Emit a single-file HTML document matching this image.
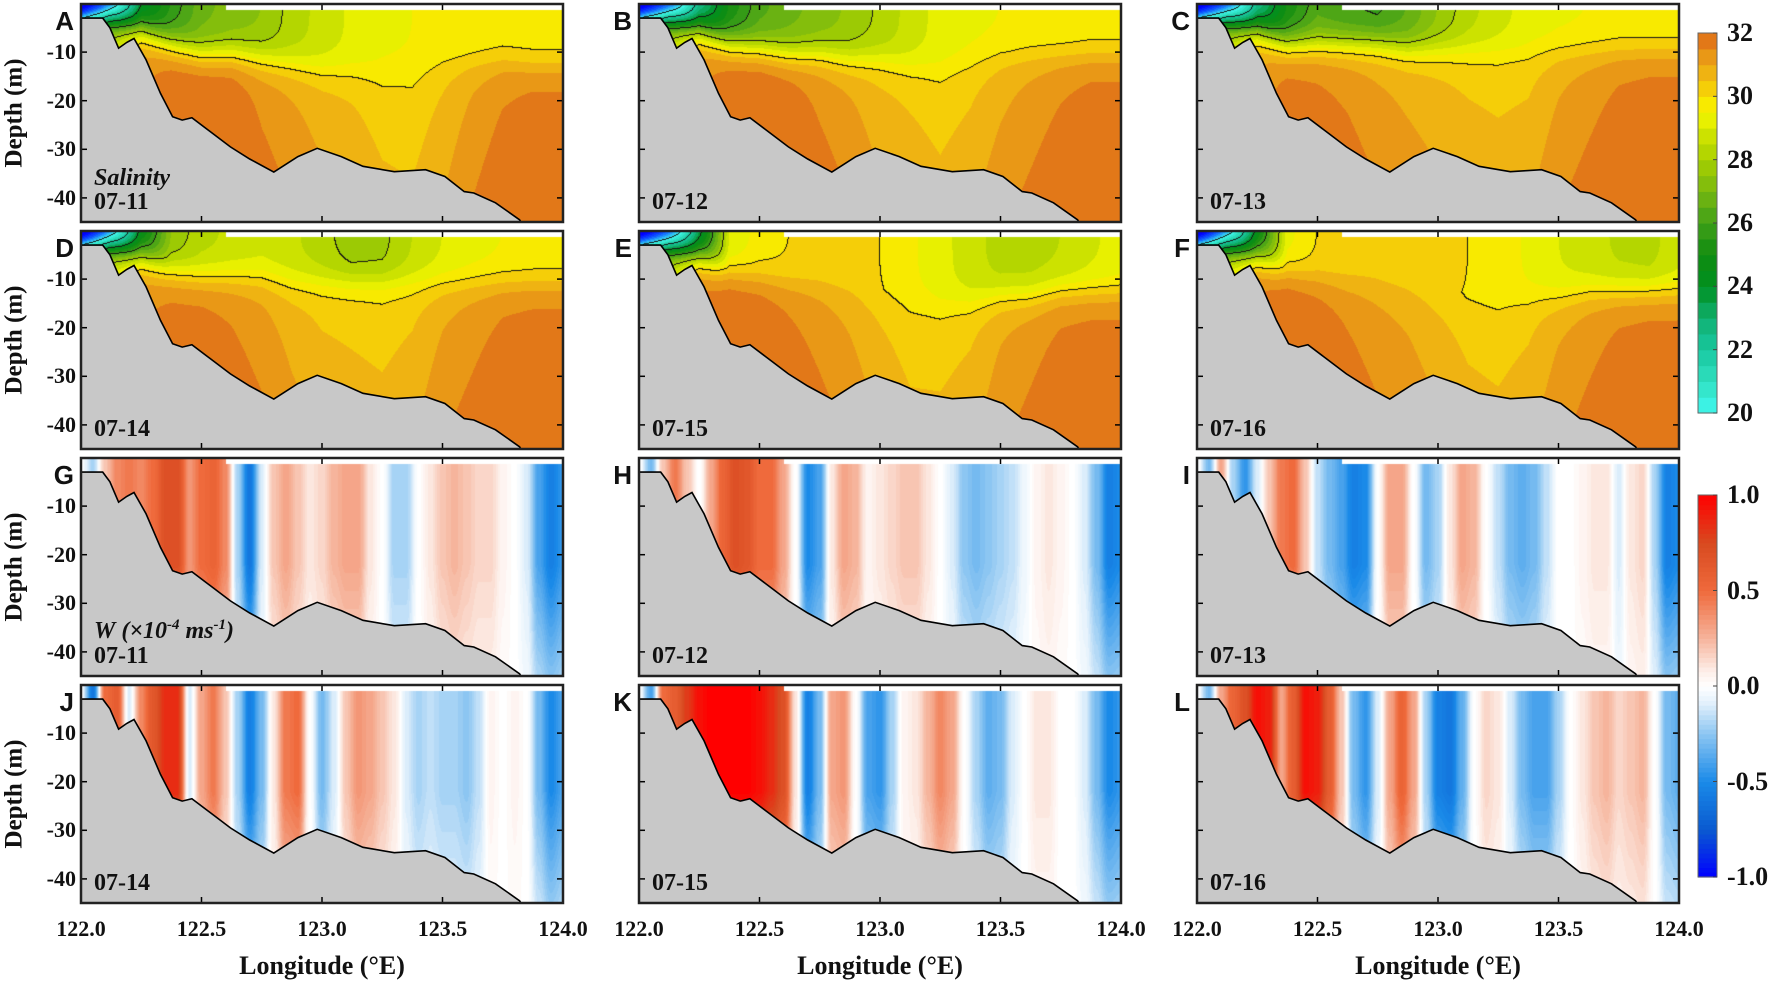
<!DOCTYPE html>
<html><head><meta charset="utf-8">
<style>
body{margin:0;background:#fff;}
#root{position:relative;width:1772px;height:984px;overflow:hidden;background:#fff;font-family:"Liberation Serif",serif;font-weight:bold;color:#111;}
.t{position:absolute;white-space:nowrap;line-height:1;}
canvas,svg{position:absolute;}
</style></head>
<body>
<div id="root"></div>
<script>
// ---------- DATA ----------
const bathyLon   = [122.00,122.09,122.12,122.156,122.19,122.22,122.27,122.33,122.38,122.42,122.46,122.54,122.62,122.70,122.80,122.90,122.98,123.08,123.17,123.30,123.43,123.51,123.59,123.63,123.72,123.82,123.85];
const bathyDepth = [3,3,5,9.2,8,7.2,11.6,18.5,23.3,24,23.5,26.5,29.5,32,34.7,31.5,29.8,31.5,33.5,34.6,34.2,35.6,38.7,39,41,44.5,47];

const salLon = [122,122.125,122.25,122.375,122.5,122.625,122.75,122.875,123,123.125,123.25,123.375,123.5,123.625,123.75,123.875,124];
const salSurfA = [12,17,23.5,25.5,26.8,27.2,27.5,28.2,28.7,29.1,29.4,29.5,29.6,29.6,29.7,29.7,29.7];
const salDeepA = [28,29,31.3,31.8,31.9,31.8,31.3,31.0,30.7,30.5,30.2,30.1,30.5,31.0,31.4,31.6,31.6];
const salHA    = [3,3,5,8,10,10,11,12,13,13,13,12,11,11,11,12,12];
const salSurfB = [12,16,22,25,26.3,26.8,27.2,27.6,28.1,28.7,29.2,29.4,29.5,29.6,29.6,29.7,29.7];
const salDeepB = [28,29,31.3,31.8,31.9,31.7,31.3,31.0,30.6,30.4,30.2,30.4,30.8,31.1,31.4,31.6,31.6];
const salHB    = [3,3,5,8,9,10,10,11,11,12,12,11,10,10,10,10,10];
const salSurfC = [12,16,22,25,26.3,26.0,25.8,26.5,27.5,28.3,28.8,29.2,29.4,29.5,29.6,29.6,29.6];
const salDeepC = [28,29,31.1,31.6,31.5,31.3,31.0,30.8,30.6,30.4,30.3,30.4,30.9,31.2,31.5,31.6,31.6];
const salHC    = [3,3,5,8,8,8,8,9,9,9,9,9,9,9,9,9,9];
const salSurfD = [12,17,24,27.5,28.3,28.6,28.8,28.6,28.2,27.7,27.8,28.5,29.0,29.3,29.5,29.6,29.6];
const salDeepD = [28,29.5,31.3,31.6,31.6,31.4,31.1,30.7,30.4,30.3,30.2,30.4,30.9,31.2,31.5,31.6,31.6];
const salHD    = [3,3,5,8,9,9,9,10,10,10,10,10,10,10,10,10,10];
const salSurfE = [12,16,23,29,29.7,30.0,30.1,30.2,30.0,29.6,29.2,28.7,28.3,28.3,28.5,28.9,29.2];
const salDeepE = [28,29,31.6,31.9,31.8,31.5,31.2,30.9,30.5,30.2,30.2,30.4,30.9,31.2,31.5,31.6,31.6];
const salHE    = [3,3,5,8,9,10,10,11,12,13,14,14,13,13,12,12,12];
const salSurfF = [12,17,24,29.3,30.0,30.2,30.3,30.3,30.2,30.0,29.8,29.4,29.0,28.7,28.4,28.3,28.8];
const salDeepF = [28,29.5,31.6,31.9,31.7,31.4,31.1,30.9,30.6,30.3,30.2,30.4,30.9,31.2,31.5,31.6,31.6];
const salHF    = [3,3,5,8,9,10,10,11,12,13,13,13,13,12,12,12,12];

const wLon = [122.00,122.05,122.10,122.15,122.20,122.25,122.30,122.35,122.40,122.45,122.50,122.55,122.60,122.65,122.70,122.75,122.80,122.85,122.90,122.95,123.00,123.05,123.10,123.15,123.20,123.25,123.30,123.35,123.40,123.45,123.50,123.55,123.60,123.65,123.70,123.75,123.80,123.85,123.90,123.95,124.00];
const wG = [0,-0.2,0.2,0.4,0.45,0.4,0.5,0.7,0.7,0.35,0.5,0.55,0.4,-0.2,-0.6,-0.1,0.2,0.3,0.2,0.1,0.15,0.25,0.3,0.3,0.1,0.0,-0.2,-0.2,0.0,0.1,0.2,0.25,0.2,0.15,0.15,0.05,0.0,-0.1,-0.4,-0.55,-0.45];
const wH = [0,-0.3,0.2,0.45,0.2,0.0,0.3,0.55,0.7,0.65,0.5,0.5,0.3,0.0,-0.5,-0.4,0.1,0.3,0.25,0.05,0.1,0.15,0.2,0.2,0.1,0.0,-0.1,-0.25,-0.3,-0.25,-0.2,-0.15,-0.05,0.05,0.1,0.05,0.0,-0.1,-0.3,-0.55,-0.5];
const wI = [0,-0.3,0.3,-0.2,-0.45,-0.1,0.2,0.45,0.5,0.2,-0.15,-0.3,-0.4,-0.55,-0.5,0.0,0.3,0.3,0.0,-0.3,-0.2,0.1,0.3,0.25,0.0,-0.15,-0.3,-0.35,-0.3,-0.15,0.0,0.0,0.05,0.1,0.1,-0.1,0.1,0.15,-0.2,-0.55,-0.5];
const wJ = [0,-0.6,0.5,0.6,-0.1,0.4,0.65,0.85,0.85,-0.1,0.3,0.45,0.2,-0.2,-0.55,-0.3,0.1,0.45,0.5,0.0,-0.3,-0.1,0.2,0.35,0.3,0.2,0.1,-0.1,-0.2,-0.15,-0.2,-0.2,-0.25,-0.15,0.05,0.0,0.05,0.0,-0.3,-0.5,-0.4];
const wK = [0,-0.4,0.5,0.6,0.8,0.95,1.0,1.0,1.0,1.0,0.95,0.85,0.7,0.1,-0.55,-0.3,0.3,0.35,0.0,-0.4,-0.45,-0.2,0.05,0.1,0.25,0.4,0.3,0.0,-0.2,-0.35,-0.3,-0.1,0.0,0.1,0.1,0.0,0.0,-0.1,-0.3,-0.5,-0.45];
const wL = [0,-0.3,0.3,0.55,0.7,0.95,0.9,0.3,0.6,0.95,0.9,0.6,0.2,-0.3,-0.45,-0.1,0.3,0.55,0.3,-0.2,-0.55,-0.6,-0.35,0.0,0.15,0.1,-0.1,-0.3,-0.4,-0.4,-0.2,0.0,0.1,0.2,0.25,0.15,0.2,0.25,0.0,-0.3,-0.35];

const xTicks = [122.0,122.5,123.0,123.5,124.0];
const xTickLabels = ["122.0","122.5","123.0","123.5","124.0"];
const yTicks = [-10,-20,-30,-40];
const salCbTicks = [20,22,24,26,28,30,32];
const wCbTicks = [-1.0,-0.5,0.0,0.5,1.0];
const wCbLabels = ["-1.0","-0.5","0.0","0.5","1.0"];
const dates = ["07-11","07-12","07-13","07-14","07-15","07-16"];
const letters = ["A","B","C","D","E","F","G","H","I","J","K","L"];

// ---------- LAYOUT ----------
const rowsY=[4,231,458,685], colsX=[81,639,1197], PW=482, PH=218, PXM=4.86;
const root=document.getElementById('root');
const NS='http://www.w3.org/2000/svg';
function lx(l){return (l-122)/2*PW;}
function zy(z){return z*PXM-0.5;}
function lin(xs,ys,x){ if(x<=xs[0])return ys[0]; for(let i=1;i<xs.length;i++){ if(x<=xs[i]){const t=(x-xs[i-1])/(xs[i]-xs[i-1]);return ys[i-1]+(ys[i]-ys[i-1])*t;} } return ys[ys.length-1];}
function smooth(xs,ys,x){ if(x<=xs[0])return ys[0]; for(let i=1;i<xs.length;i++){ if(x<=xs[i]){let t=(x-xs[i-1])/(xs[i]-xs[i-1]);t=t*t*(3-2*t);return ys[i-1]+(ys[i]-ys[i-1])*t;} } return ys[ys.length-1];}
function hex(c){return [parseInt(c.substr(1,2),16),parseInt(c.substr(3,2),16),parseInt(c.substr(5,2),16)];}
const salStops=[[16,'#0000ff'],[18,'#1060ff'],[20,'#40f8f0'],[21,'#30e0c0'],[22,'#18c8a0'],[23,'#10b070'],[24,'#009020'],[25,'#108c10'],[26,'#40a018'],[27,'#78b810'],[28,'#a8d000'],[29,'#d8e800'],[29.5,'#f8f800'],[30,'#f8dc00'],[30.5,'#f2c010'],[31,'#eca614'],[31.5,'#e68a18'],[32,'#de6618']].map(s=>[s[0],hex(s[1])]);
const wStops=[[-1,'#0000ff'],[-0.75,'#0a5ad0'],[-0.5,'#1a8ae8'],[-0.25,'#8cc6f2'],[-0.08,'#e6f2fc'],[0,'#ffffff'],[0.08,'#fdeee8'],[0.25,'#f6b49c'],[0.5,'#ef6a3c'],[0.75,'#d84a20'],[1,'#ff0000']].map(s=>[s[0],hex(s[1])]);
function cmap(st,v){ if(v<=st[0][0])return st[0][1]; for(let i=1;i<st.length;i++){ if(v<=st[i][0]){const t=(v-st[i-1][0])/(st[i][0]-st[i-1][0]);const a=st[i-1][1],b=st[i][1];return [a[0]+(b[0]-a[0])*t,a[1]+(b[1]-a[1])*t,a[2]+(b[2]-a[2])*t];} } return st[st.length-1][1];}
function salColor(s){const q=Math.min(31.75,Math.floor(s*2)/2+0.25);return cmap(salStops,q);}
function wColor(w){const q=Math.round(w*40)/40;return cmap(wStops,Math.max(-1,Math.min(1,q)));}

function text(str,x,y,size,opts){
  const d=document.createElement('div');d.className='t';d.innerHTML=str;
  d.style.left=x+'px';d.style.top=y+'px';d.style.fontSize=size+'px';
  if(opts&&opts.css)Object.assign(d.style,opts.css);
  root.appendChild(d);return d;
}

const salSets=[[salSurfA,salDeepA,salHA],[salSurfB,salDeepB,salHB],[salSurfC,salDeepC,salHC],[salSurfD,salDeepD,salHD],[salSurfE,salDeepE,salHE],[salSurfF,salDeepF,salHF]];
const wSets=[wG,wH,wI,wJ,wK,wL];

for(let p=0;p<12;p++){
  const r=Math.floor(p/3), c=p%3, x0=colsX[c], y0=rowsY[r];
  const isSal=p<6;
  const cv=document.createElement('canvas');cv.width=PW;cv.height=PH;
  cv.style.left=x0+'px';cv.style.top=y0+'px';
  
  
  root.appendChild(cv);
  const ctx=cv.getContext('2d');const img=ctx.createImageData(PW,PH);const D=img.data;
  const S=new Float32Array(PW*PH).fill(NaN);
  for(let i=0;i<PW;i++){
    const lon=122+(i+0.5)/PW*2;
    const bot=lin(bathyLon,bathyDepth,lon);
    const zTop = lon<122.6?0:1.3;
    let su,de,h,wv;
    if(isSal){const st=salSets[p];su=lin(salLon,st[0],lon);de=lin(salLon,st[1],lon);h=lin(salLon,st[2],lon);}
    else wv=smooth(wLon,wSets[p-6],lon);
    for(let j=0;j<PH;j++){
      const z=(j+0.5+0.5)/PXM; const k=(j*PW+i)*4; let col;
      if(z>bot){col=[200,200,200];}
      else if(z<zTop){col=[255,255,255];}
      else if(isSal){
        const sig=1/(1+Math.exp((z-h)/1.8));
        const s=de+(su-de)*sig + 0.02*Math.max(0,z-h-4) - 0.4*Math.exp(-Math.max(0,z-h)/4)*(1-sig);
        S[j*PW+i]=s; col=salColor(s);
      } else {
        const env = z<22?1:Math.max(0.4,1-0.5*(z-22)/22);
        col=wColor(wv*env);
      }
      D[k]=col[0];D[k+1]=col[1];D[k+2]=col[2];D[k+3]=255;
    }
  }
  if(isSal){
    const levels=[20,22,24,26,28,30];
    for(let j=0;j<PH-1;j++)for(let i=0;i<PW-1;i++){
      const a=S[j*PW+i],b=S[j*PW+i+1],d=S[(j+1)*PW+i];
      if(isNaN(a))continue;
      let hit=false;
      for(const L of levels){ if((!isNaN(b)&&(a-L)*(b-L)<0)||(!isNaN(d)&&(a-L)*(d-L)<0)){hit=true;break;} }
      if(hit){const k=(j*PW+i)*4;D[k]=20;D[k+1]=20;D[k+2]=20;}
    }
  }
  ctx.putImageData(img,0,0);

  const sv=document.createElementNS(NS,'svg');sv.setAttribute('width',PW+4);sv.setAttribute('height',PH+4);
  sv.style.left=(x0-2)+'px';sv.style.top=(y0-2)+'px';
  
  
  const g=document.createElementNS(NS,'g');g.setAttribute('transform','translate(2,2)');sv.appendChild(g);
  let dpath='';
  for(let i=0;i<bathyLon.length;i++){dpath+=(i?'L':'M')+lx(bathyLon[i]).toFixed(1)+','+zy(bathyDepth[i]).toFixed(1);}
  const bp=document.createElementNS(NS,'path');bp.setAttribute('d',dpath);bp.setAttribute('fill','none');bp.setAttribute('stroke','#000');bp.setAttribute('stroke-width','1.6');
  
  
  const clip=document.createElementNS(NS,'clipPath');clip.setAttribute('id','cp'+p);
  const cr=document.createElementNS(NS,'rect');cr.setAttribute('width',PW);cr.setAttribute('height',PH);clip.appendChild(cr);g.appendChild(clip);
  bp.setAttribute('clip-path','url(#cp'+p+')');
  g.appendChild(bp);
  for(const t of xTicks.slice(1,4)){
    const X=lx(t);
    for(const yy of [[0,6],[PH-6,PH]]){const l=document.createElementNS(NS,'line');l.setAttribute('x1',X);l.setAttribute('x2',X);l.setAttribute('y1',yy[0]);l.setAttribute('y2',yy[1]);l.setAttribute('stroke','#000');l.setAttribute('stroke-width','1.5');
      
      g.appendChild(l);}
  }
  for(const t of yTicks){
    const Y=zy(-t);
    for(const xx of [[0,6],[PW-6,PW]]){const l=document.createElementNS(NS,'line');l.setAttribute('x1',xx[0]);l.setAttribute('x2',xx[1]);l.setAttribute('y1',Y);l.setAttribute('y2',Y);l.setAttribute('stroke','#000');l.setAttribute('stroke-width','1.5');
      
      g.appendChild(l);}
  }
  const fr=document.createElementNS(NS,'rect');fr.setAttribute('x',0);fr.setAttribute('y',0);fr.setAttribute('width',PW);fr.setAttribute('height',PH);fr.setAttribute('fill','none');fr.setAttribute('stroke','#222');fr.setAttribute('stroke-width','2.5');
  
  
  g.appendChild(fr);
  root.appendChild(sv);

  const le=text(letters[p],0,y0+4,26,{css:{fontFamily:'"Liberation Sans",sans-serif',width:(x0-7)+'px',textAlign:'right',left:'0px'}});
  
  
  const dt=text(dates[p%6],x0+13,y0+186,24);
  
  
  if(p===0){const s=text('<i>Salinity</i>',x0+13,y0+162,24);
    
    }
  if(p===6){const s=text('<i>W</i> <i>(×10<sup style="font-size:15px">-4</sup> ms<sup style="font-size:15px">-1</sup>)</i>',x0+13,y0+160,24);
    
    }
  if(c===0){
    for(const t of yTicks){const yl=text(String(t),0,y0+zy(-t)-11,22,{css:{width:'76px',textAlign:'right'}});
      
      }
    const yt=text('Depth (m)',14,y0+PH/2,25,{css:{transform:'translate(-50%,-50%) rotate(-90deg)'}});
    
    
  }
  if(r===3){
    xTicks.forEach((t,i)=>{const xl=text(xTickLabels[i],x0+lx(t),918,22,{css:{transform:'translateX(-50%)'}});
      
      });
    const xt=text('Longitude (°E)',x0+PW/2,953,26,{css:{transform:'translateX(-50%)'}});
    
    
  }
}

function colorbar(top,bot,vmin,vmax,step,colorFn,ticks,labels,name){
  const sv=document.createElementNS(NS,'svg');sv.setAttribute('width',40);sv.setAttribute('height',bot-top+4);
  sv.style.left='1696px';sv.style.top=(top-2)+'px';
  
  
  const H=bot-top;
  for(let v=vmin;v<vmax-1e-9;v+=step){
    const y1=2+H-(v+step-vmin)/(vmax-vmin)*H, hh=step/(vmax-vmin)*H;
    const rc=document.createElementNS(NS,'rect');rc.setAttribute('x',2);rc.setAttribute('y',y1);rc.setAttribute('width',19);rc.setAttribute('height',hh+0.6);
    const col=colorFn(v+step/2);rc.setAttribute('fill','rgb('+col.map(Math.round).join(',')+')');
    
    
    sv.appendChild(rc);
  }
  const fr=document.createElementNS(NS,'rect');fr.setAttribute('x',2);fr.setAttribute('y',2);fr.setAttribute('width',19);fr.setAttribute('height',H);fr.setAttribute('fill','none');fr.setAttribute('stroke','#666');fr.setAttribute('stroke-width','1');sv.appendChild(fr);
  ticks.forEach((t,i)=>{
    const y=2+H-(t-vmin)/(vmax-vmin)*H;
    const l=document.createElementNS(NS,'line');l.setAttribute('x1',17);l.setAttribute('x2',21);l.setAttribute('y1',y);l.setAttribute('y2',y);l.setAttribute('stroke','#444');
    
    
    sv.appendChild(l);
    const tl=text(labels[i],1727,y+top-2-13,26);
    
    
  });
  root.appendChild(sv);
}
colorbar(33,413,20,32,0.5,v=>cmap(salStops,v),salCbTicks,salCbTicks.map(String),'salinity-colorbar');
colorbar(495,877,-1,1,0.025,v=>cmap(wStops,v),wCbTicks,wCbLabels,'velocity-colorbar');
</script>
</body></html>
